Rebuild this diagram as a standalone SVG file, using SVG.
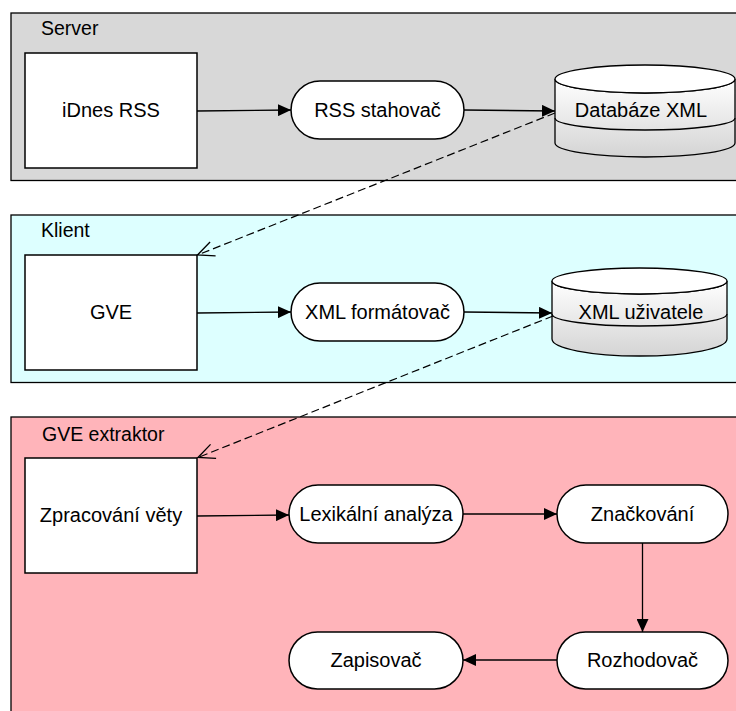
<svg xmlns="http://www.w3.org/2000/svg" width="736" height="711" viewBox="0 0 736 711">
  <style>
    .panel { stroke: #000; stroke-width: 1.3; }
    .lane-label { font-family: "Liberation Sans", Arial, sans-serif; font-size: 19.5px; fill: #000; }
    .box { fill: #fff; stroke: #000; stroke-width: 1.5; }
    .label { font-family: "Liberation Sans", Arial, sans-serif; font-size: 20px; fill: #000; text-anchor: middle; }
    .db-body { fill: url(#dbShade); stroke: #000; stroke-width: 1.3; }
    .db-line { fill: none; stroke: #000; stroke-width: 1.3; }
    .flow { fill: none; stroke: #000; stroke-width: 1.3; marker-end: url(#solidArrow); }
    .link { fill: none; stroke: #000; stroke-width: 1.2; stroke-dasharray: 8 4; marker-end: url(#openArrow); }
  </style>
  <defs>
    <linearGradient id="dbShade" x1="0" y1="0" x2="0" y2="1">
      <stop offset="0" stop-color="#ffffff"/>
      <stop offset="1" stop-color="#d4d4d4"/>
    </linearGradient>
    <marker id="solidArrow" markerUnits="userSpaceOnUse" viewBox="0 0 13 12" markerWidth="13" markerHeight="12" refX="13" refY="6" orient="auto">
      <path d="M0,0 L13,6 L0,12 Z" fill="#000"/>
    </marker>
    <marker id="openArrow" markerUnits="userSpaceOnUse" viewBox="-1 -1 20 18" markerWidth="20" markerHeight="18" refX="17" refY="8" orient="auto">
      <path d="M0.5,0.5 L17,8 L0.5,15.5" fill="none" stroke="#000" stroke-width="1.3"/>
    </marker>
  </defs>

  <!-- swimlanes -->
  <g id="lane-server">
    <rect class="panel" x="11" y="13" width="740" height="167.5" fill="#d8d8d8"/>
    <text class="lane-label" x="41" y="35">Server</text>
  </g>
  <g id="lane-klient">
    <rect class="panel" x="11" y="215" width="740" height="167.5" fill="#ddffff"/>
    <text class="lane-label" x="41" y="237">Klient</text>
  </g>
  <g id="lane-extraktor">
    <rect class="panel" x="11" y="417" width="740" height="300" fill="#ffb4ba"/>
    <text class="lane-label" x="42" y="441">GVE extraktor</text>
  </g>

  <!-- server nodes -->
  <g id="idnes-rss">
    <rect class="box" x="25" y="53" width="172" height="115"/>
    <text class="label" x="111" y="117">iDnes RSS</text>
  </g>
  <g id="rss-stahovac">
    <rect class="box" x="291" y="81" width="173" height="58" rx="29" ry="29"/>
    <text class="label" x="377.5" y="117">RSS stahovač</text>
  </g>
  <g id="databaze-xml">
    <path class="db-body" d="M555,79 L555,143 A90,14 0 0 0 735,143 L735,79 A90,14 0 0 1 555,79 Z"/>
    <ellipse cx="645" cy="79" rx="90" ry="14" fill="#fff" stroke="#000" stroke-width="1.3"/>
    <path class="db-line" d="M555,118 A90,12 0 0 0 735,118"/>
    <text class="label" x="641" y="117">Databáze XML</text>
  </g>

  <!-- client nodes -->
  <g id="gve">
    <rect class="box" x="25" y="255" width="172" height="115"/>
    <text class="label" x="111" y="319">GVE</text>
  </g>
  <g id="xml-formatovac">
    <rect class="box" x="291" y="283" width="173" height="58" rx="29" ry="29"/>
    <text class="label" x="377.5" y="319">XML formátovač</text>
  </g>
  <g id="xml-uzivatele">
    <path class="db-body" d="M552,281 L552,339 A87.5,17 0 0 0 727,339 L727,281 A87.5,13 0 0 1 552,281 Z"/>
    <ellipse cx="639.5" cy="281" rx="87.5" ry="13" fill="#fff" stroke="#000" stroke-width="1.3"/>
    <path class="db-line" d="M552,314 A87.5,12 0 0 0 727,314"/>
    <text class="label" x="641" y="319">XML uživatele</text>
  </g>

  <!-- extractor nodes -->
  <g id="zpracovani-vety">
    <rect class="box" x="25" y="458" width="172" height="115"/>
    <text class="label" x="111" y="522">Zpracování věty</text>
  </g>
  <g id="lexikalni-analyza">
    <rect class="box" x="289" y="485" width="174" height="58" rx="29" ry="29"/>
    <text class="label" x="376" y="521">Lexikální analýza</text>
  </g>
  <g id="znackovani">
    <rect class="box" x="557" y="485" width="171" height="58" rx="29" ry="29"/>
    <text class="label" x="642.5" y="521">Značkování</text>
  </g>
  <g id="rozhodovac">
    <rect class="box" x="557" y="632" width="171" height="57" rx="28.5" ry="28.5"/>
    <text class="label" x="642.5" y="667">Rozhodovač</text>
  </g>
  <g id="zapisovac">
    <rect class="box" x="289" y="632" width="174" height="57" rx="28.5" ry="28.5"/>
    <text class="label" x="376" y="667">Zapisovač</text>
  </g>

  <!-- connectors -->
  <g id="connectors">
    <path class="flow" d="M197,111 L291,110"/>
    <path class="flow" d="M464,110 L555,111"/>
    <path class="link" d="M555,113 L197.5,255"/>
    <path class="flow" d="M197,313 L291,312"/>
    <path class="flow" d="M464,312 L552,313"/>
    <path class="link" d="M553,316 L198,457.5"/>
    <path class="flow" d="M197,516 L289,515"/>
    <path class="flow" d="M463,514 L557,514"/>
    <path class="flow" d="M642.5,543 L642.5,632"/>
    <path class="flow" d="M557,660 L463,660"/>
  </g>
</svg>
